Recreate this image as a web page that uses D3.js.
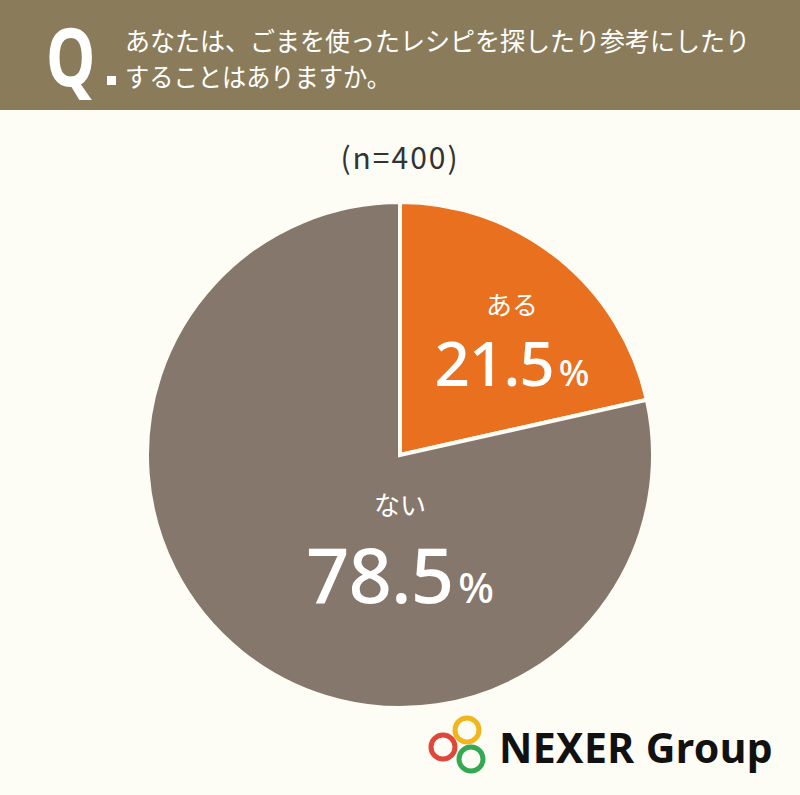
<!DOCTYPE html>
<html lang="ja">
<head>
<meta charset="UTF-8">
<title>ごまを使ったレシピ</title>
<script src="https://d3js.org/d3.v7.min.js"></script>
<style>
  body { margin: 0; background: #fdfdf5; }
  svg { display: block; }
</style>
</head>
<body>
<script>
  const labels = ["ある", "ない"];
  const values = [21.5, 78.5];
  const colors = ["#e8701e", "#85776b"];
  const questionLines = ["あなたは、ごまを使ったレシピを探したり参考にしたり", "することはありますか。"];
  const sampleNote = "(n=400)";

  const w = 800, h = 795;
  const cx = 400, cy = 455, r = 253;
  const jp = "'Noto Sans CJK JP', 'Noto Sans', sans-serif";

  const svg = d3.select("body").append("svg")
      .attr("width", w).attr("height", h);

  svg.append("rect").attr("width", w).attr("height", h).attr("fill", "#fdfdf5");

  // header band
  svg.append("rect").attr("width", w).attr("height", 110).attr("fill", "#8a7c5a");
  svg.append("text")
     .attr("x", 46 / 0.78).attr("y", 86)
     .attr("transform", "scale(0.78,1)")
     .attr("font-family", "'Noto Sans', sans-serif").attr("font-weight", 700)
     .attr("font-size", 80).attr("fill", "#fff")
     .text("Q");
  svg.append("rect").attr("x", 107).attr("y", 76).attr("width", 9).attr("height", 9).attr("fill", "#fff");
  svg.selectAll("text.q")
     .data(questionLines)
     .enter().append("text")
     .attr("class", "q")
     .attr("x", 125)
     .attr("y", (d, i) => 51 + i * 36)
     .attr("font-family", jp).attr("font-size", 26)
     .attr("textLength", (d, i) => i === 0 ? 625 : 266)
     .attr("lengthAdjust", "spacingAndGlyphs")
     .attr("fill", "#fff")
     .text(d => d);

  svg.append("text")
     .attr("x", cx).attr("y", 169)
     .attr("text-anchor", "middle")
     .attr("font-family", jp).attr("font-size", 30)
     .attr("letter-spacing", 2)
     .attr("fill", "#333")
     .text(sampleNote);

  const pie = d3.pie().sort(null).value(d => d);
  const arc = d3.arc().innerRadius(0).outerRadius(r);
  const arcs = pie(values);

  const g = svg.append("g").attr("transform", `translate(${cx},${cy})`);
  g.selectAll("path")
   .data(arcs)
   .enter().append("path")
   .attr("d", arc)
   .attr("fill", (d, i) => colors[i])
   .attr("stroke", "#fdfdf5")
   .attr("stroke-width", 4);

  // labels
  const labelPos = [[112, -140], [0, 60]];
  const bigSize = [62, 76];
  const pctSize = [36, 42];
  const numDy = [71, 88];
  arcs.forEach((d, i) => {
    const [lx, ly] = labelPos[i];
    g.append("text")
     .attr("x", lx).attr("y", ly)
     .attr("text-anchor", "middle")
     .attr("font-family", jp).attr("font-size", 26)
     .attr("fill", "#fff")
     .text(labels[i]);
    const t = g.append("text")
     .attr("x", lx).attr("y", ly + numDy[i])
     .attr("text-anchor", "middle")
     .attr("font-family", "'Noto Sans', sans-serif")
     .attr("font-weight", 500)
     .attr("fill", "#fff");
    t.append("tspan").attr("font-size", bigSize[i]).attr("letter-spacing", -1).text(d3.format(".1f")(d.data));
    t.append("tspan").attr("font-size", pctSize[i]).attr("dx", 5).text("%");
  });

  // logo
  const logo = svg.append("g");
  const rings = [[443, 747, "#e0463a"], [467, 730, "#f2b61d"], [471, 759, "#35a853"]];
  logo.selectAll("circle")
      .data(rings)
      .enter().append("circle")
      .attr("cx", d => d[0]).attr("cy", d => d[1]).attr("r", 12)
      .attr("fill", "none").attr("stroke", d => d[2]).attr("stroke-width", 5);
  logo.append("text")
      .attr("x", 499).attr("y", 763)
      .attr("font-family", "'Noto Sans', sans-serif").attr("font-weight", 700)
      .attr("font-size", 41).attr("letter-spacing", 0.4).attr("fill", "#111")
      .text("NEXER Group");
</script>
</body>
</html>
